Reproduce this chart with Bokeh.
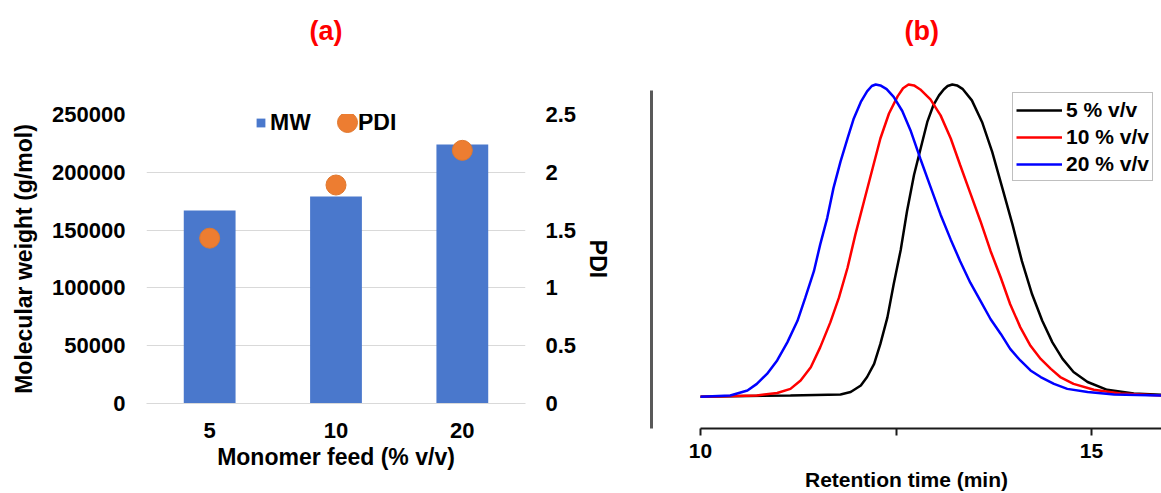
from bokeh.plotting import figure
from bokeh.models import (Range1d, FactorRange, LinearAxis, FixedTicker,
                          NumeralTickFormatter, Legend, LegendItem, Title)
from bokeh.layouts import row
from bokeh.embed import file_html
from bokeh.resources import INLINE

FONT = "Liberation Sans"

# ---------------- data: panel (a) ----------------
feeds = ["5", "10", "20"]
mw = [167000, 179000, 224000]
pdi = [1.43, 1.89, 2.19]
mw_ticks = [0, 50000, 100000, 150000, 200000, 250000]
pdi_ticks = [0, 0.5, 1, 1.5, 2, 2.5]

# ---------------- data: panel (b) (normalised GPC traces) ----------------
t_5 = [10.0, 11.15, 11.79, 11.92, 12.05, 12.13, 12.22, 12.30, 12.39, 12.47, 12.56,
       12.64, 12.73, 12.81, 12.90, 12.98, 13.05, 13.11, 13.16, 13.22, 13.28, 13.35,
       13.47, 13.60, 13.73, 13.86, 13.99, 14.11, 14.24, 14.37, 14.50, 14.63, 14.77,
       14.95, 15.20, 15.54, 15.90]
s_5 = [0.0, 0.004, 0.007, 0.015, 0.036, 0.063, 0.105, 0.169, 0.254, 0.36, 0.47,
       0.593, 0.71, 0.79, 0.88, 0.935, 0.965, 0.984, 0.995, 1.0, 0.997, 0.986,
       0.949, 0.88, 0.784, 0.668, 0.551, 0.434, 0.328, 0.243, 0.174, 0.121, 0.079,
       0.047, 0.022, 0.01, 0.006]

t_10 = [10.0, 10.72, 10.98, 11.15, 11.28, 11.41, 11.53, 11.66, 11.77, 11.88, 11.98,
        12.09, 12.20, 12.30, 12.41, 12.52, 12.59, 12.66, 12.73, 12.81, 12.94, 13.07,
        13.20, 13.32, 13.45, 13.58, 13.71, 13.84, 13.96, 14.09, 14.22, 14.35, 14.48,
        14.60, 14.77, 15.03, 15.37, 15.90]
s_10 = [0.0, 0.004, 0.012, 0.025, 0.052, 0.094, 0.158, 0.238, 0.317, 0.413, 0.519,
        0.625, 0.731, 0.827, 0.907, 0.962, 0.988, 1.0, 0.997, 0.984, 0.952, 0.901,
        0.827, 0.742, 0.652, 0.562, 0.466, 0.381, 0.296, 0.222, 0.163, 0.121, 0.089,
        0.063, 0.041, 0.022, 0.01, 0.004]

t_20 = [10.0, 10.38, 10.60, 10.72, 10.85, 10.98, 11.11, 11.24, 11.34, 11.45, 11.53,
        11.62, 11.70, 11.79, 11.88, 11.96, 12.05, 12.13, 12.19, 12.24, 12.30, 12.38,
        12.47, 12.58, 12.69, 12.81, 12.94, 13.07, 13.20, 13.32, 13.45, 13.58, 13.71,
        13.84, 13.96, 14.09, 14.22, 14.35, 14.52, 14.69, 14.95, 15.29, 15.90]
s_20 = [0.0, 0.004, 0.02, 0.041, 0.073, 0.116, 0.174, 0.243, 0.317, 0.402, 0.487,
        0.572, 0.668, 0.753, 0.827, 0.891, 0.944, 0.978, 0.995, 1.0, 0.997, 0.985,
        0.96, 0.915, 0.85, 0.763, 0.673, 0.583, 0.503, 0.434, 0.365, 0.307, 0.248,
        0.201, 0.153, 0.116, 0.084, 0.063, 0.041, 0.025, 0.015, 0.007, 0.004]

series = [("5 % v/v", t_5, s_5, "#000000"),
          ("10 % v/v", t_10, s_10, "#ff0000"),
          ("20 % v/v", t_20, s_20, "#0000ff")]

TXT = "22px"
LBL = "23px"


def no_align(p):
    if "frame_align" in p.properties():
        p.frame_align = False


def add_titles(p, text, offset, gap):
    # blank spacer next to the frame, then the red panel letter above it
    p.add_layout(Title(text=" ", text_font=FONT, text_font_size="27px",
                       standoff=gap), "above")
    p.add_layout(Title(text=text, align="left", offset=offset, vertical_align="top",
                       standoff=0, text_color="#ff0000", text_font=FONT,
                       text_font_size="27px", text_font_style="bold"), "above")


def plain_legend(**kw):
    base = dict(padding=0, margin=0, border_line_color=None, background_fill_alpha=0,
                label_text_font=FONT, label_text_font_size=LBL,
                label_text_font_style="bold", label_text_color="#000000")
    base.update(kw)
    return Legend(**base)


# ---------------- panel (a) ----------------
pa = figure(width=628, height=493, x_range=FactorRange(*feeds),
            y_range=Range1d(0, 250000), output_backend="svg", toolbar_location=None,
            min_border_left=146, min_border_right=103, min_border_top=114,
            min_border_bottom=90, title=None)
no_align(pa)
pa.outline_line_color = None
add_titles(pa, "(a)", 163, 35)

pa.extra_y_ranges = {"pdi": Range1d(0, 2.5)}

mw_r = pa.vbar(x=feeds, top=mw, width=0.41, fill_color="#4a78cc", line_color=None)
pdi_r = pa.scatter(x=feeds, y=pdi, y_range_name="pdi", size=20,
                   fill_color="#ED7D31", line_color="#e0782f")

pa.xgrid.visible = False
pa.ygrid.grid_line_color = "#d9d9d9"
pa.ygrid.ticker = FixedTicker(ticks=mw_ticks)

ya = pa.yaxis[0]
ya.ticker = FixedTicker(ticks=mw_ticks)
ya.formatter = NumeralTickFormatter(format="0")
ya.axis_label = "Molecular weight (g/mol)"

yb = LinearAxis(y_range_name="pdi", ticker=FixedTicker(ticks=pdi_ticks),
                formatter=NumeralTickFormatter(format="0.[0]"), axis_label="PDI")
pa.add_layout(yb, "right")

for ax in (ya, yb):
    ax.axis_line_color = None
    ax.major_tick_out = 0
    ax.major_tick_in = 0
    ax.minor_tick_out = 0
    ax.minor_tick_in = 0
    ax.major_label_text_font = FONT
    ax.major_label_text_font_size = TXT
    ax.major_label_text_font_style = "bold"
    ax.major_label_text_color = "#000000"
    ax.axis_label_text_font = FONT
    ax.axis_label_text_font_size = LBL
    ax.axis_label_text_font_style = "bold"
    ax.axis_label_text_color = "#000000"
ya.major_label_standoff = 21
ya.axis_label_standoff = 12
yb.major_label_standoff = 20
yb.axis_label_standoff = 6

xa = pa.xaxis[0]
xa.axis_label = "Monomer feed (% v/v)"
xa.axis_line_color = "#d9d9d9"
xa.major_tick_out = 0
xa.major_tick_in = 0
xa.major_label_standoff = 19
xa.major_label_text_font = FONT
xa.major_label_text_font_size = TXT
xa.major_label_text_font_style = "bold"
xa.major_label_text_color = "#000000"
xa.axis_label_text_font = FONT
xa.axis_label_text_font_size = LBL
xa.axis_label_text_font_style = "bold"
xa.axis_label_text_color = "#000000"
xa.axis_label_standoff = 3

# legend of panel (a): square for MW, big dot for PDI
leg_mw = plain_legend(items=[LegendItem(label="MW", renderers=[mw_r])],
                      location=(109, 266), glyph_width=11, glyph_height=11,
                      label_height=30, label_standoff=4)
leg_dot = plain_legend(items=[LegendItem(label=" ", renderers=[pdi_r])],
                       location=(176, 256), glyph_width=50, glyph_height=50,
                       label_standoff=0)
leg_pdi = plain_legend(items=[LegendItem(label="PDI", renderers=[mw_r])],
                       location=(212, 266), glyph_width=0, glyph_height=11,
                       label_height=30, label_standoff=0)
pa.add_layout(leg_mw)
pa.add_layout(leg_dot)
pa.add_layout(leg_pdi)

# ---------------- panel (b) ----------------
pb = figure(width=533, height=493, x_range=Range1d(9.373, 15.895),
            y_range=Range1d(-0.1019, 1.0127), output_backend="svg",
            toolbar_location=None, min_border_left=23, min_border_right=0,
            min_border_top=80, min_border_bottom=63, title=None)
no_align(pb)
pb.outline_line_color = None
pb.grid.visible = False
add_titles(pb, "(b)", 253, 1)

items = []
for name, t, s, c in series:
    r = pb.line(t, s, line_color=c, line_width=2.5)
    items.append(LegendItem(label=name, renderers=[r]))

leg_b = Legend(items=items, location=(361, 247), glyph_width=46, glyph_height=20,
               label_height=27, spacing=0, padding=3, label_standoff=4, margin=0,
               border_line_color="#7f7f7f", border_line_width=1.5,
               label_text_font=FONT, label_text_font_size="21px",
               label_text_font_style="bold", label_text_color="#000000")
pb.add_layout(leg_b)

bx = pb.xaxis[0]
bx.bounds = (10, 16)
bx.ticker = FixedTicker(ticks=[10, 15], minor_ticks=[12.5])
bx.axis_line_width = 2
bx.axis_line_color = "#1a1a1a"
bx.major_tick_line_width = 2
bx.major_tick_line_color = "#1a1a1a"
bx.minor_tick_line_width = 2
bx.minor_tick_line_color = "#1a1a1a"
bx.major_tick_out = 7
bx.major_tick_in = 0
bx.minor_tick_out = 7
bx.minor_tick_in = 0
bx.major_label_standoff = 8
bx.major_label_text_font = FONT
bx.major_label_text_font_size = "21px"
bx.major_label_text_font_style = "bold"
bx.major_label_text_color = "#000000"
bx.axis_label = "Retention time (min)"
bx.axis_label_text_font = FONT
bx.axis_label_text_font_size = "21px"
bx.axis_label_text_font_style = "bold"
bx.axis_label_text_color = "#000000"
bx.axis_label_standoff = 7

by = pb.yaxis[0]
by.bounds = (-0.1019, 0.981)
by.ticker = FixedTicker(ticks=[])
by.axis_line_color = "#595959"
by.axis_line_width = 3
by.major_tick_out = 0
by.major_tick_in = 0
by.minor_tick_out = 0
by.minor_tick_in = 0
by.major_label_text_font_size = "0px"

layout = row(pa, pb)
open("out.html", "w").write(file_html(layout, INLINE))
